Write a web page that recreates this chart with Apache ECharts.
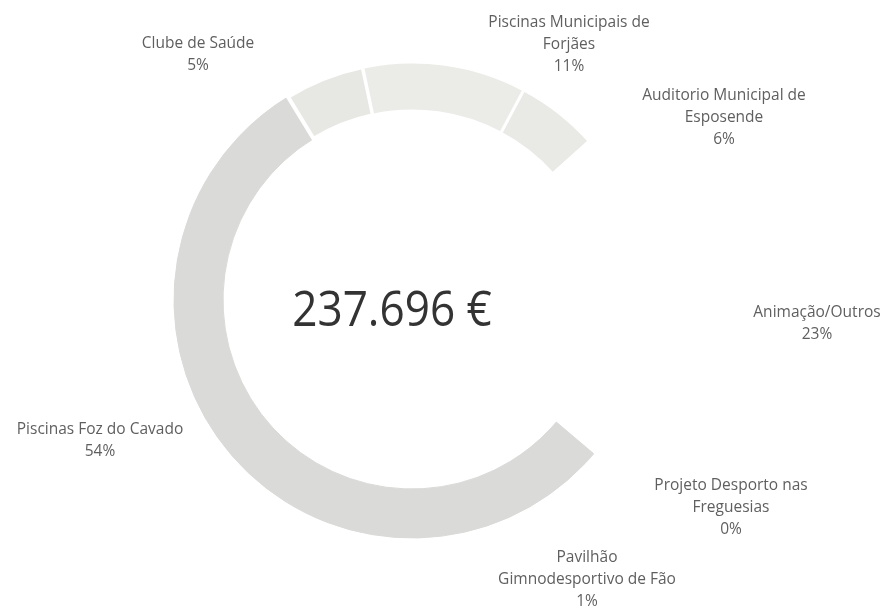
<!DOCTYPE html>
<html>
<head>
<meta charset="utf-8">
<script src="https://cdn.jsdelivr.net/npm/echarts@6/dist/echarts.min.js"></script>
<style>
html,body{margin:0;padding:0;background:#fff;}
#chart{width:887px;height:610px;}
</style>
</head>
<body>
<div id="chart"></div>
<script>
// Categories (clockwise from the Auditorio slice)
var categories = [
  'Auditorio Municipal de\nEsposende',
  'Animação/Outros',
  'Projeto Desporto nas\nFreguesias',
  'Pavilhão\nGimnodesportivo de Fão',
  'Piscinas Foz do Cavado',
  'Clube de Saúde',
  'Piscinas Municipais de\nForjães'
];
// Estimated amounts in euros (sum = 237.696 €)
var values = [13311, 53719, 475, 2139, 128831, 12836, 26385];

// Styling (not data)
var sliceColors = ['#e9e9e5', '#ffffff', '#ffffff', '#dadad8', '#dadad8', '#e7e7e3', '#ebebe7'];
var sliceBorderColors = ['#ffffff', '#ffffff', '#ffffff', '#dadad8', '#dadad8', '#ffffff', '#ffffff'];
var sliceBorders = [3, 3, 3, 1, 1, 4, 3];
var labelPositions = [
  [724, 118], [817, 324], [731, 508], [587, 580], [100, 441], [198, 55], [569, 45]
];

var total = values.reduce(function (a, b) { return a + b; }, 0);
var totalText = String(total).replace(/\B(?=(\d{3})+(?!\d))/g, '.') + ' €';

var chart = echarts.init(document.getElementById('chart'), null, {renderer: 'canvas'});
chart.setOption({
  animation: false,
  backgroundColor: '#ffffff',
  graphic: [{
    type: 'text',
    x: 392,
    y: 312,
    scaleX: 0.9,
    style: {
      text: totalText,
      fontFamily: 'Open Sans',
      fontSize: 49,
      fill: '#333333',
      textAlign: 'center',
      textVerticalAlign: 'middle'
    }
  }],
  series: [{
    type: 'pie',
    center: [412, 300],
    radius: [189, 238],
    startAngle: 62,
    clockwise: true,
    percentPrecision: 0,
    avoidLabelOverlap: false,
    minShowLabelAngle: 0,
    stillShowZeroSum: true,
    emphasis: {disabled: true},
    labelLine: {show: false},
    label: {
      show: true,
      position: 'outside',
      formatter: '{b}\n{d}%',
      fontFamily: 'Open Sans',
      fontSize: 15.5,
      lineHeight: 22,
      color: '#5f5f5f',
      align: 'center'
    },
    labelLayout: function (params) {
      var p = labelPositions[params.dataIndex];
      return {x: p[0], y: p[1], align: 'center', verticalAlign: 'middle', hideOverlap: false};
    },
    data: categories.map(function (c, i) {
      return {
        name: c,
        value: values[i],
        itemStyle: {color: sliceColors[i], borderColor: sliceBorderColors[i], borderWidth: sliceBorders[i]}
      };
    })
  }]
});
</script>
</body>
</html>
